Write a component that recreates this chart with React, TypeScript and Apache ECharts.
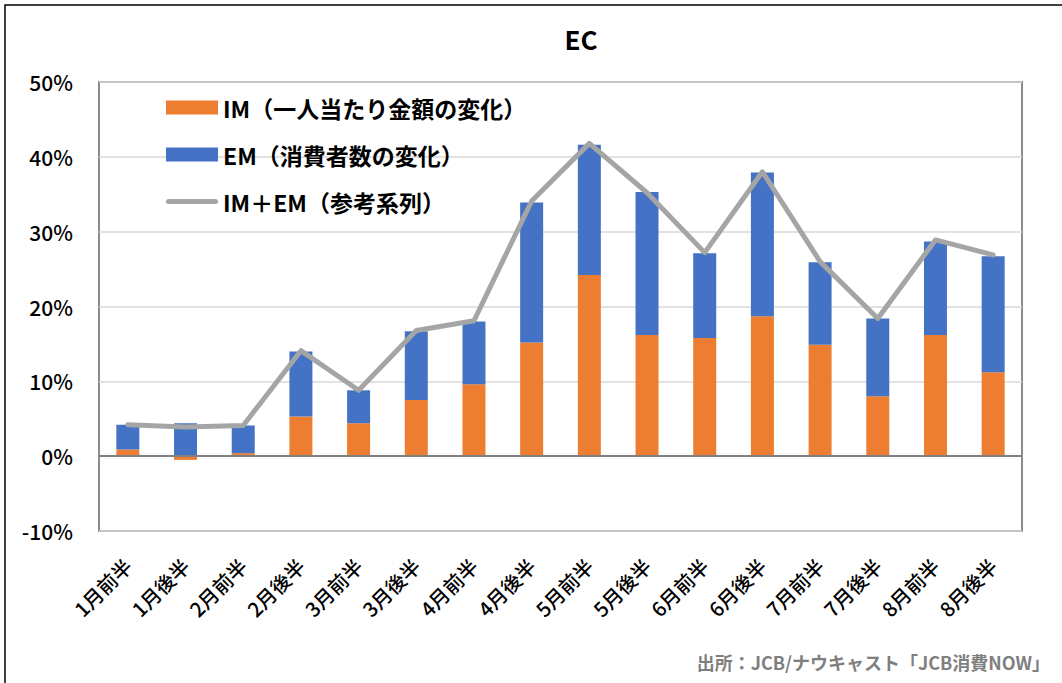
import React, { useEffect, useRef } from "react";
import * as echarts from "echarts";

const categories = [
  "1月前半", "1月後半", "2月前半", "2月後半", "3月前半", "3月後半", "4月前半", "4月後半",
  "5月前半", "5月後半", "6月前半", "6月後半", "7月前半", "7月後半", "8月前半", "8月後半",
];
const imValues = [0.9, -0.5, 0.4, 5.3, 4.4, 7.5, 9.6, 15.2, 24.2, 16.2, 15.8, 18.7, 14.9, 8.0, 16.2, 11.2];
const emValues = [3.3, 4.4, 3.7, 8.7, 4.4, 9.2, 8.4, 18.7, 17.4, 19.1, 11.3, 19.2, 11.0, 10.4, 12.5, 15.5];
const totalValues = [4.2, 3.9, 4.1, 14.1, 8.8, 16.8, 18.1, 34.1, 41.8, 35.2, 27.2, 38.0, 26.0, 18.4, 28.9, 26.9];
const seriesNames = ["IM（一人当たり金額の変化）", "EM（消費者数の変化）", "IM＋EM（参考系列）"];
const titleText = "EC";
const sourceText = "出所：JCB/ナウキャスト「JCB消費NOW」";

const FONT = '"Noto Sans CJK JP", "Noto Sans", sans-serif';
const LINE_ICON = "path://M2.5,0 L49.5,0 A2.5,2.5 0 0 1 49.5,5 L2.5,5 A2.5,2.5 0 0 1 2.5,0 Z";

export default function App() {
  const ref = useRef<HTMLDivElement>(null);
  useEffect(() => {
    if (!ref.current) return;
    const chart = echarts.init(ref.current, undefined, { renderer: "svg" });
    chart.setOption({
      animation: false,
      backgroundColor: "#ffffff",
      textStyle: { fontFamily: FONT },
      grid: {
        left: 99, top: 82, width: 923, height: 449,
        show: true, borderColor: "#8c8c8c", borderWidth: 2, backgroundColor: "#ffffff",
      },
      legend: {
        orient: "vertical", left: 161, top: 91,
        itemWidth: 52, itemHeight: 14, itemGap: 24,
        textStyle: { fontSize: 23, fontWeight: "bold", color: "#000", fontFamily: FONT, lineHeight: 23 },
        data: [
          { name: seriesNames[0], icon: "rect" },
          { name: seriesNames[1], icon: "rect" },
          { name: seriesNames[2], icon: LINE_ICON },
        ],
      },
      xAxis: {
        type: "category",
        data: categories,
        axisLine: { show: false },
        axisTick: { show: false },
        axisLabel: { rotate: 45, margin: 31, fontSize: 20, fontWeight: 500, color: "#000", fontFamily: FONT, interval: 0 },
      },
      yAxis: {
        type: "value",
        min: -10, max: 50, interval: 10,
        axisLine: { show: false },
        axisTick: { show: false },
        axisLabel: { formatter: "{value}%", fontSize: 21, fontWeight: 500, color: "#000", margin: 26, fontFamily: FONT },
        splitLine: { lineStyle: { color: "#d9d9d9", width: 1.5 } },
      },
      series: [
        {
          name: seriesNames[0], type: "bar", stack: "total", barWidth: 23,
          itemStyle: { color: "#ED7D31" }, data: imValues,
          markLine: {
            silent: true, symbol: "none", label: { show: false },
            lineStyle: { color: "#808080", width: 2, type: "solid" },
            data: [{ yAxis: 0 }],
          },
        },
        {
          name: seriesNames[1], type: "bar", stack: "total", barWidth: 23,
          itemStyle: { color: "#4472C4" }, data: emValues,
        },
        {
          name: seriesNames[2], type: "line", symbol: "none", z: 5,
          lineStyle: { color: "#A5A5A5", width: 5, cap: "round", join: "round" },
          itemStyle: { color: "#A5A5A5" },
          data: totalValues,
        },
      ],
      graphic: [
        {
          type: "rect", shape: { x: 5, y: 5, width: 1200, height: 800 },
          style: { fill: "none", stroke: "#000", lineWidth: 1.5 }, silent: true, z: 100,
        },
        {
          type: "text", x: 581, y: 38,
          style: { text: titleText, fontSize: 26, fontWeight: "bold", fill: "#000", textAlign: "center", textVerticalAlign: "middle", fontFamily: FONT },
        },
        {
          type: "text", x: 1050, y: 662,
          style: { text: sourceText, fontSize: 18, fontWeight: "bold", fill: "#7f7f7f", textAlign: "right", textVerticalAlign: "middle", fontFamily: FONT },
        },
      ],
    });
    return () => chart.dispose();
  }, []);
  return <div ref={ref} style={{ position: "absolute", left: 0, top: 0, width: 1062, height: 683 }} />;
}
